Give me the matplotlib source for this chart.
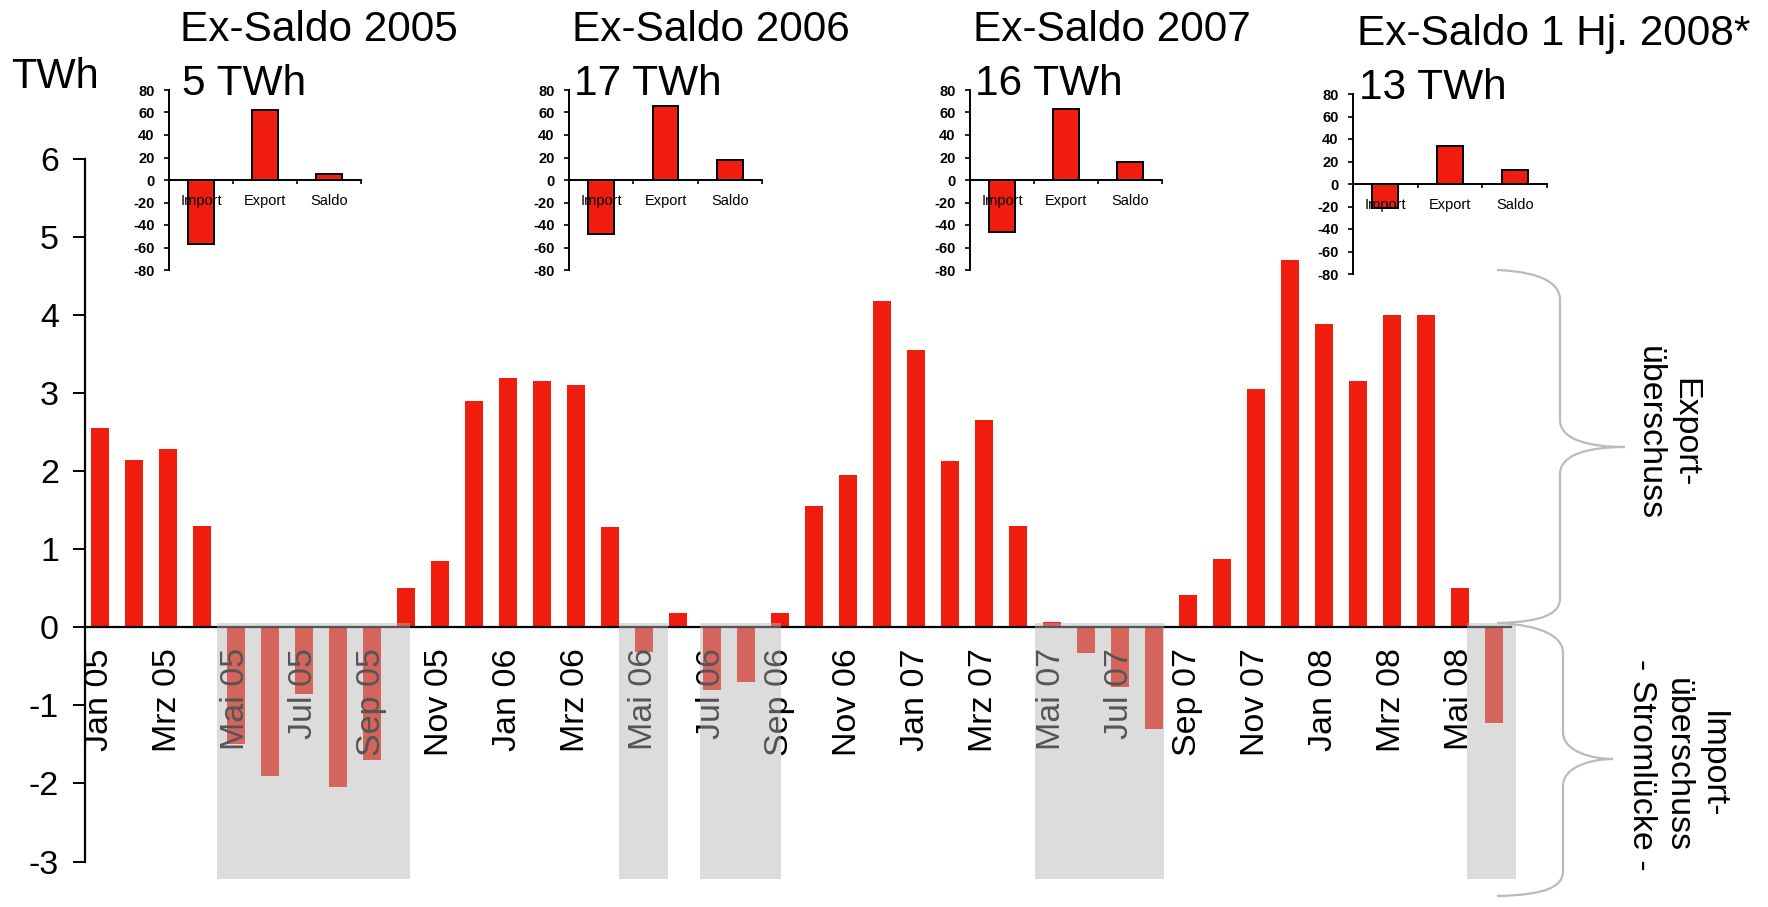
import numpy as np
import matplotlib.pyplot as plt
from matplotlib.patches import Rectangle, PathPatch
from matplotlib.path import Path
from matplotlib.transforms import Affine2D

plt.rcParams['font.family'] = ['Liberation Sans', 'DejaVu Sans']

# monthly export balance, TWh (Jan 05 .. Jun 08)
months = ["Jan 05", "Feb 05", "Mrz 05", "Apr 05", "Mai 05", "Jun 05", "Jul 05", "Aug 05",
          "Sep 05", "Okt 05", "Nov 05", "Dez 05",
          "Jan 06", "Feb 06", "Mrz 06", "Apr 06", "Mai 06", "Jun 06", "Jul 06", "Aug 06",
          "Sep 06", "Okt 06", "Nov 06", "Dez 06",
          "Jan 07", "Feb 07", "Mrz 07", "Apr 07", "Mai 07", "Jun 07", "Jul 07", "Aug 07",
          "Sep 07", "Okt 07", "Nov 07", "Dez 07",
          "Jan 08", "Feb 08", "Mrz 08", "Apr 08", "Mai 08", "Jun 08"]
saldo = [2.55, 2.15, 2.28, 1.30, -1.49, -1.90, -0.85, -2.05, -1.70, 0.50, 0.85, 2.90,
         3.20, 3.15, 3.10, 1.28, -0.32, 0.18, -0.80, -0.70, 0.18, 1.55, 1.95, 4.18,
         3.55, 2.13, 2.65, 1.30, 0.07, -0.33, -0.77, -1.30, 0.42, 0.87, 3.05, 4.70,
         3.88, 3.15, 4.00, 4.00, 0.50, -1.23]

# shaded import periods (in month index units)
grey_start = [3.44, 15.28, 17.64, 27.5, 40.2]
grey_end = [9.13, 16.72, 20.03, 31.3, 41.66]

# yearly insets
ins_title = ["Ex-Saldo 2005", "Ex-Saldo 2006", "Ex-Saldo 2007", "Ex-Saldo 1 Hj. 2008*"]
ins_total = ["5 TWh", "17 TWh", "16 TWh", "13 TWh"]
ins_cats = ["Import", "Export", "Saldo"]
ins_import = [-57, -48, -46, -21]
ins_export = [62, 66, 63, 34]
ins_saldo = [5, 18, 16, 12.5]

RED = '#F01D0E'
W, H = 1768, 907

fig = plt.figure(figsize=(W / 100, H / 100), dpi=100)

def fx(px):
    return px / W

def fy(py):
    return 1 - py / H

# main chart
ax = fig.add_axes([fx(84.6), fy(861.5), fx(1511 - 84.6), (861.5 - 159) / H])
x = np.arange(len(months))
ax.bar(x, saldo, width=0.53, color=RED, zorder=1)
ax.set_xlim(-0.44, 41.5)
ax.set_ylim(-3, 6)
ax.spines['top'].set_visible(False)
ax.spines['right'].set_visible(False)
ax.spines['bottom'].set_position(('data', 0))
ax.spines['bottom'].set_linewidth(1.6)
ax.spines['left'].set_linewidth(1.6)
ax.set_yticks(range(-3, 7))
ax.set_yticklabels([str(v) for v in range(-3, 7)])
ax.tick_params(axis='y', direction='out', length=8.5, width=1.4, pad=10, labelsize=24.5)
ax.set_xticks(x[::2])
ax.set_xticklabels(months[::2], rotation=90, fontsize=24.5)
ax.tick_params(axis='x', length=0, pad=15)

for a, b in zip(grey_start, grey_end):
    ax.add_patch(Rectangle((a, -3.23), b - a, 3.28, facecolor=(0.71, 0.71, 0.71),
                           alpha=0.47, edgecolor='none', zorder=5, clip_on=False))

fig.text(fx(11), fy(88), "TWh", fontsize=30, va='baseline')

# insets
ins_left = [169, 569, 970, 1353]
ins_right = [361, 762, 1162, 1547]
ins_top = [90, 90, 90, 94]
title_x = [180, 572, 973, 1357]
title_y = [41, 41, 41, 45]
for i in range(4):
    ia = fig.add_axes([fx(ins_left[i]), fy(ins_top[i] + 180), fx(ins_right[i] - ins_left[i]), 180 / H])
    vals = [ins_import[i], ins_export[i], ins_saldo[i]]
    ia.bar([0.5, 1.5, 2.5], vals, width=0.4, color=RED, edgecolor='black', linewidth=1.4)
    ia.set_xlim(0, 3)
    ia.set_ylim(-80, 80)
    ia.patch.set_alpha(0)
    ia.spines['top'].set_visible(False)
    ia.spines['right'].set_visible(False)
    ia.spines['bottom'].set_position(('data', 0))
    ia.spines['bottom'].set_linewidth(1.4)
    ia.spines['left'].set_linewidth(1.4)
    ia.set_yticks(range(-80, 81, 20))
    ia.set_yticklabels([str(v) for v in range(-80, 81, 20)], fontweight='bold')
    ia.tick_params(axis='y', direction='out', length=3.5, width=1.2, pad=7, labelsize=10.5)
    ia.set_xticks([0, 1, 2, 3])
    ia.set_xticklabels([])
    ia.tick_params(axis='x', which='major', direction='out', length=3, width=1.2)
    ia.set_xticks([0.5, 1.5, 2.5], minor=True)
    ia.set_xticklabels(ins_cats, minor=True, fontsize=10.5)
    ia.tick_params(axis='x', which='minor', length=0, pad=10)
    fig.text(fx(title_x[i]), fy(title_y[i]), ins_title[i], fontsize=30.5, va='baseline')
    fig.text(fx(title_x[i] + 2), fy(title_y[i] + 54), ins_total[i], fontsize=30.5, va='baseline')

# braces on the right (figure pixel coords, y down)
px = Affine2D().scale(1 / W, -1 / H).translate(0, 1) + fig.transFigure

def brace(xe, xv, xt, yt, yb, ym):
    verts = [(xe, yt), (xe + 48, yt + 2), (xv, yt + 15), (xv, yt + 30),
             (xv, ym - 27),
             (xv, ym - 7), (xv + 30, ym), (xt, ym),
             (xv + 30, ym), (xv, ym + 7), (xv, ym + 27),
             (xv, yb - 25),
             (xv, yb - 10), (xv - 15, yb - 1), (xe, yb)]
    codes = [Path.MOVETO, Path.CURVE4, Path.CURVE4, Path.CURVE4,
             Path.LINETO,
             Path.CURVE4, Path.CURVE4, Path.CURVE4,
             Path.CURVE4, Path.CURVE4, Path.CURVE4,
             Path.LINETO,
             Path.CURVE4, Path.CURVE4, Path.CURVE4]
    fig.add_artist(PathPatch(Path(verts, codes), transform=px, facecolor='none',
                             edgecolor='#BBBBBB', linewidth=1.6))

brace(1497, 1560, 1625, 270, 623, 447)
brace(1497, 1563, 1613, 623, 896, 759)

fig.text(fx(1667), fy(433), "Export-\nüberschuss", rotation=270, fontsize=24.5,
         ha='center', va='center', multialignment='center')
fig.text(fx(1677), fy(765), "Import-\nüberschuss\n- Stromlücke -", rotation=270, fontsize=24.5,
         ha='center', va='center', multialignment='center')

fig.savefig('out.png', dpi=100)
